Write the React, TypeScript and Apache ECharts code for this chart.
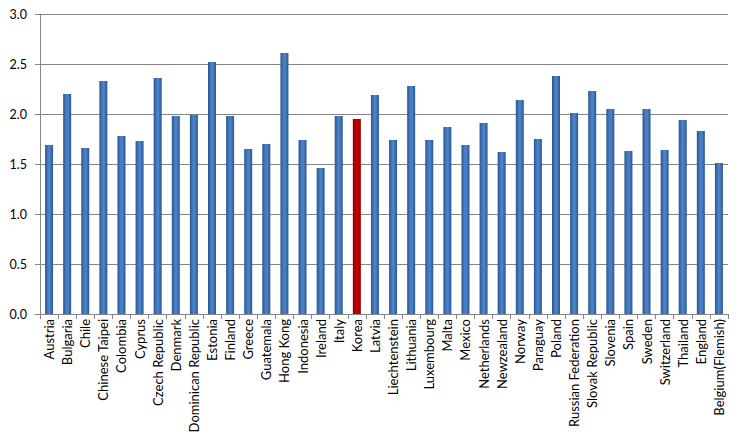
import React, { useEffect, useRef } from "react";
import * as echarts from "echarts";

const countries = [
  "Austria", "Bulgaria", "Chile", "Chinese Taipei", "Colombia", "Cyprus",
  "Czech Republic", "Denmark", "Dominican Republic", "Estonia", "Finland",
  "Greece", "Guatemala", "Hong Kong", "Indonesia", "Ireland", "Italy", "Korea",
  "Latvia", "Liechtenstein", "Lithuania", "Luxembourg", "Malta", "Mexico",
  "Netherlands", "Newzealand", "Norway", "Paraguay", "Poland",
  "Russian Federation", "Slovak Republic", "Slovenia", "Spain", "Sweden",
  "Switzerland", "Thailand", "England", "Belgium(Flemish)",
];

const values = [
  1.69, 2.2, 1.66, 2.33, 1.78, 1.73, 2.36, 1.98, 1.99, 2.52, 1.98, 1.65,
  1.7, 2.61, 1.74, 1.46, 1.98, 1.95, 2.19, 1.74, 2.28, 1.74, 1.87, 1.69,
  1.91, 1.62, 2.14, 1.75, 2.38, 2.01, 2.23, 2.05, 1.63, 2.05, 1.64, 1.94,
  1.83, 1.51,
];

const highlight = "Korea";
const yTicks = [0, 0.5, 1, 1.5, 2, 2.5, 3];

const blueGrad = new echarts.graphic.LinearGradient(0, 0, 1, 0, [
  { offset: 0, color: "#2a5690" },
  { offset: 0.45, color: "#4c82c8" },
  { offset: 0.6, color: "#4a80c6" },
  { offset: 1, color: "#2a5690" },
]);
const redGrad = new echarts.graphic.LinearGradient(0, 0, 1, 0, [
  { offset: 0, color: "#8e0000" },
  { offset: 0.45, color: "#c80000" },
  { offset: 0.6, color: "#c40000" },
  { offset: 1, color: "#8e0000" },
]);

export default function App() {
  const ref = useRef<HTMLDivElement>(null);
  useEffect(() => {
    if (!ref.current) return;
    const chart = echarts.init(ref.current, undefined, { renderer: "svg" });
    chart.setOption({
      animation: false,
      backgroundColor: "#ffffff",
      grid: { left: 40, right: 15, top: 14, bottom: 125, containLabel: false },
      xAxis: {
        type: "category",
        data: countries,
        axisLine: { show: true, lineStyle: { color: "#868686", width: 1 } },
        axisTick: { show: true, length: 5, alignWithLabel: false, lineStyle: { color: "#868686" } },
        axisLabel: {
          interval: 0,
          rotate: 90,
          color: "#000000",
          fontFamily: "Lato, 'Open Sans', sans-serif",
          fontSize: 13,
          margin: 5,
        },
      },
      yAxis: {
        type: "value",
        min: 0,
        max: yTicks[yTicks.length - 1],
        interval: 0.5,
        axisLine: { show: true, lineStyle: { color: "#868686", width: 1 } },
        axisTick: { show: true, length: 5, lineStyle: { color: "#868686" } },
        splitLine: { show: true, lineStyle: { color: "#868686", width: 1 } },
        axisLabel: {
          color: "#000000",
          fontFamily: "Lato, 'Open Sans', sans-serif",
          fontSize: 12.5,
          margin: 13,
          formatter: (v: number) => v.toFixed(1),
        },
      },
      series: [
        {
          type: "bar",
          barWidth: 8,
          data: values.map((v, i) => ({
            value: v,
            itemStyle: {
              color: countries[i] === highlight ? redGrad : blueGrad,
            },
          })),
        },
      ],
    });
    return () => chart.dispose();
  }, []);
  return <div ref={ref} style={{ width: 743, height: 439, position: "absolute", left: 0, top: 0 }} />;
}
